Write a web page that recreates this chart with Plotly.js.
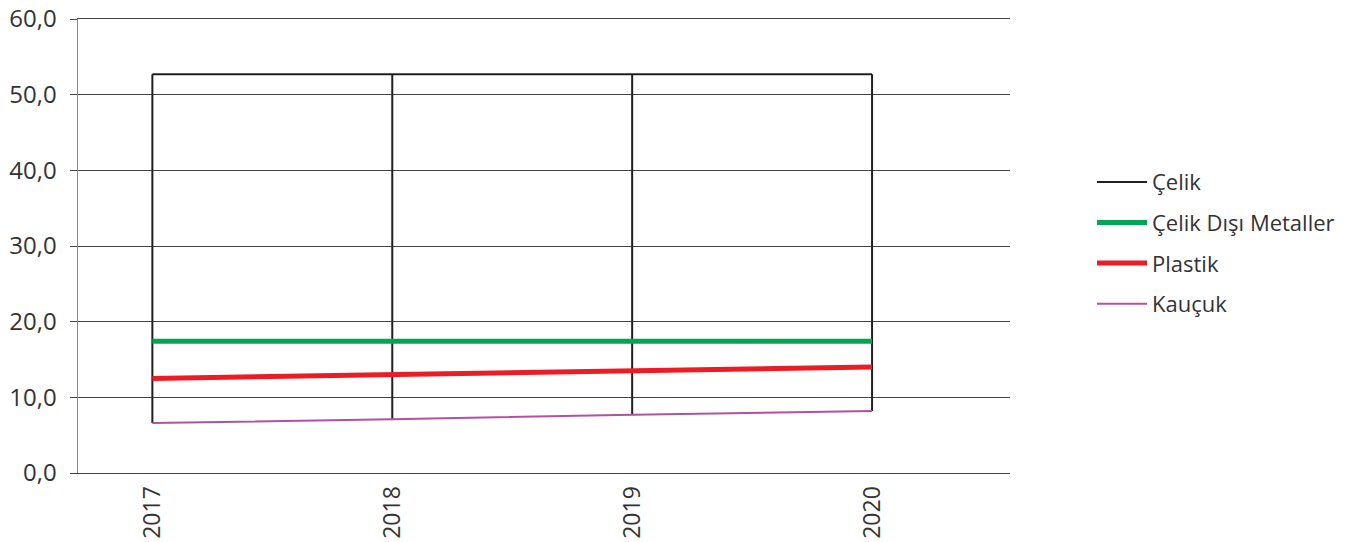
<!DOCTYPE html>
<html>
<head>
<meta charset="utf-8">
<script src="https://cdn.plot.ly/plotly-3.0.1.min.js"></script>
<style>html,body{margin:0;padding:0;background:#fff;}#chart{width:1352px;height:542px;}</style>
</head>
<body>
<div id="chart"></div>
<script>
const years = [2017, 2018, 2019, 2020];
const celik = [52.7, 52.7, 52.7, 52.7];
const celikDisiMetaller = [17.4, 17.4, 17.4, 17.4];
const plastik = [12.5, 13.0, 13.5, 14.0];
const kaucuk = [6.6, 7.1, 7.7, 8.2];
const seriesNames = ["Çelik", "Çelik Dışı Metaller", "Plastik", "Kauçuk"];
const yTickVals = [0, 10, 20, 30, 40, 50, 60];
const yTickText = ["0,0", "10,0", "20,0", "30,0", "40,0", "50,0", "60,0"];

const FONT = "Open Sans, Noto Sans, sans-serif";
const BLACK = "#231f20";
const traces = [];

// high-low lines (from highest to lowest series value at each year)
years.forEach((yr, i) => {
  const all = [celik[i], celikDisiMetaller[i], plastik[i], kaucuk[i]];
  traces.push({
    x: [yr, yr], y: [Math.max(...all), Math.min(...all)],
    mode: "lines", line: {color: BLACK, width: 2},
    showlegend: false, hoverinfo: "skip"
  });
});

traces.push({x: years, y: celik, name: seriesNames[0], mode: "lines", line: {color: BLACK, width: 2}, legendgroup: "a"});
traces.push({x: years, y: celikDisiMetaller, name: seriesNames[1], mode: "lines", line: {color: "#00a651", width: 5}, legendgroup: "b"});
traces.push({x: years, y: plastik, name: seriesNames[2], mode: "lines", line: {color: "#ed1c24", width: 5}, legendgroup: "c"});
traces.push({x: years, y: kaucuk, name: seriesNames[3], mode: "lines", line: {color: "#b5509f", width: 2}, legendgroup: "d"});

const layout = {
  width: 1352, height: 542,
  margin: {l: 78, r: 342, t: 19, b: 69, autoexpand: false},
  paper_bgcolor: "#fff", plot_bgcolor: "#fff",
  font: {family: FONT, size: 22, color: "#333"},
  showlegend: true,
  legend: {
    x: 1.088, xanchor: "left", y: 0.687, yanchor: "top",
    font: {family: FONT, size: 22, color: "#333"},
    traceorder: "grouped", tracegroupgap: 9, itemwidth: 50,
    bgcolor: "rgba(0,0,0,0)"
  },
  xaxis: {
    type: "linear", range: [2016.69, 2020.575],
    tickvals: years, ticktext: years.map(String), tickangle: -90,
    showgrid: false, zeroline: false,
    showline: true, mirror: true, linecolor: "#444", linewidth: 1,
    ticks: "", ticklabelstandoff: 3,
    tickfont: {family: FONT, size: 23, color: "#333"}
  },
  yaxis: {
    range: [0, 60], tickvals: yTickVals, ticktext: yTickText,
    showgrid: true, gridcolor: "#444", gridwidth: 1,
    zeroline: false, showline: true, linecolor: "#888", linewidth: 1.5,
    ticks: "outside", ticklen: 7, tickcolor: "#444", tickwidth: 1,
    ticklabelstandoff: 8,
    tickfont: {family: FONT, size: 24, color: "#333"}
  }
};

Plotly.newPlot("chart", traces, layout, {displayModeBar: false, staticPlot: true});
</script>
</body>
</html>
